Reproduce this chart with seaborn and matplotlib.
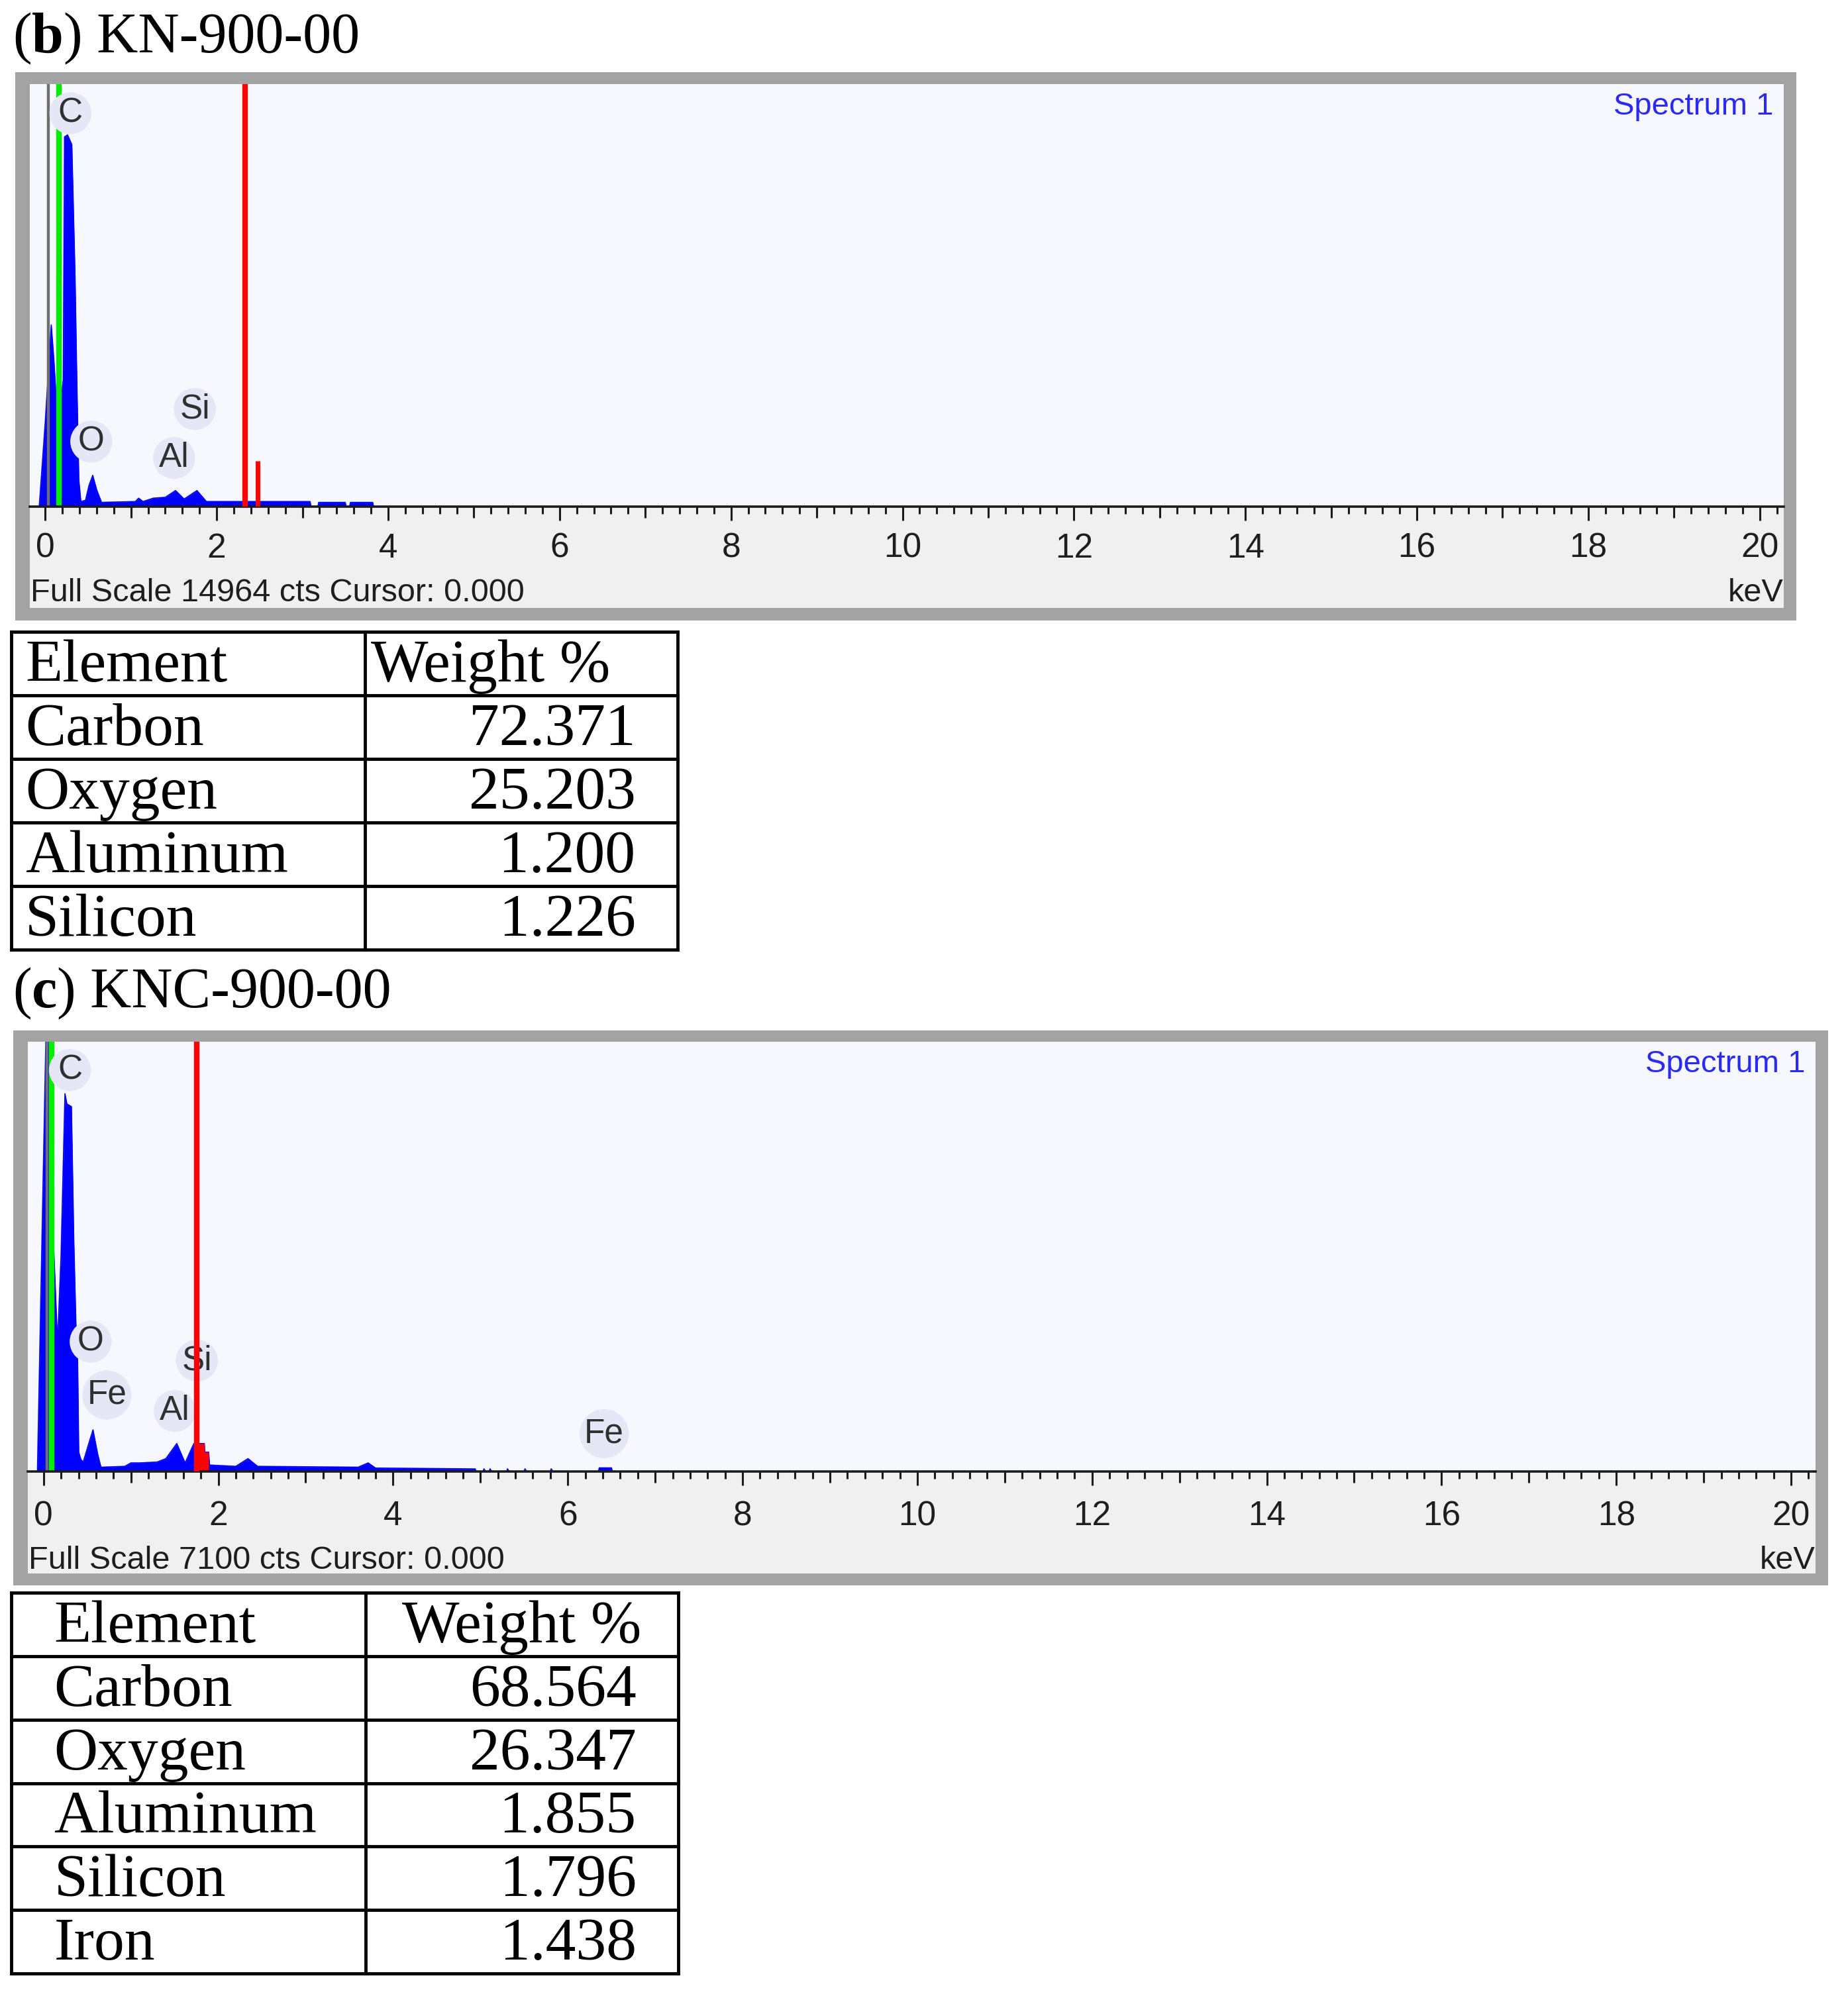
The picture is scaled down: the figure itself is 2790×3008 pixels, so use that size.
import numpy as np
import pandas as pd
import seaborn as sns
import matplotlib.pyplot as plt
from matplotlib.ticker import MultipleLocator

W, H = 2790, 3008

# (b) KN-900-00 spectrum, counts per keV
energy_b = [-0.07, 0.00, 0.07, 0.10, 0.13, 0.18, 0.21, 0.225, 0.26, 0.31, 0.347, 0.371,
            0.392, 0.416, 0.47, 0.51, 0.554, 0.60, 0.657, 1.05, 1.09, 1.14, 1.26, 1.40,
            1.52, 1.62, 1.77, 1.88, 3.09, 3.10, 3.18, 3.19, 3.50, 3.51, 3.55, 3.56, 3.82,
            3.83, 20.3]
counts_b = [0, 2993, 6435, 5237, 3741, 3741, 4489, 13094, 13168, 12824, 8275, 4085,
            943, 180, 224, 748, 1107, 599, 150, 180, 299, 180, 299, 329,
            569, 269, 569, 180, 180, 0, 0, 150, 150, 0, 0, 150, 150,
            0, 0]
full_scale_b = 14964
grey_b, green_b, red_b = 0.036, 0.157, 2.33
red_bar_b = (2.48, 1616)
peak_names_b = ["C", "O", "Al", "Si"]
peak_kev_b = [0.294, 0.537, 1.503, 1.745]
peak_cts_b = [13932, 2304, 1721, 3457]
elements_b = ["Carbon", "Oxygen", "Aluminum", "Silicon"]
weights_b = ["72.371", "25.203", "1.200", "1.226"]

# (c) KNC-900-00 spectrum
energy_c = [-0.07, 0.03, 0.05, 0.10, 0.16, 0.20, 0.245, 0.268, 0.319, 0.346, 0.37, 0.39,
            0.403, 0.427, 0.454, 0.51, 0.566, 0.62, 0.657, 0.93, 1.00, 1.10, 1.30, 1.40,
            1.525, 1.62, 1.72, 1.84, 1.845, 1.89, 1.90, 2.20, 2.34, 2.45, 3.60, 3.715,
            3.80, 4.94, 4.95, 5.03, 5.04, 5.06, 5.10, 5.11, 5.13, 5.30, 5.31, 5.33, 5.50,
            5.51, 5.53, 5.80, 5.81, 5.83, 6.35, 6.36, 6.50, 6.51, 20.3]
counts_c = [0, 7400, 7400, 4260, 2130, 3550, 6241, 6071, 6028, 3827, 2464, 1846,
            320, 199, 156, 426, 689, 284, 71, 85, 142, 142, 156, 213,
            462, 142, 462, 462, 320, 320, 107, 85, 213, 85, 71, 142,
            57, 43, 0, 0, 45, 0, 0, 45, 0, 0, 45, 0, 0,
            45, 0, 0, 45, 0, 0, 60, 60, 0, 0]
full_scale_c = 7100
grey_c, green_c, red_c = 0.043, 0.095, 1.755
red_fill_c = (1.72, 1.89)
peak_names_c = ["C", "O", "Fe", "Al", "Si", "Fe"]
peak_kev_c = [0.302, 0.539, 0.724, 1.502, 1.755, 6.416]
peak_cts_c = [6631, 2144, 1264, 1001, 1832, 625]
elements_c = ["Carbon", "Oxygen", "Aluminum", "Silicon", "Iron"]
weights_c = ["68.564", "26.347", "1.855", "1.796", "1.438"]

sns.set_theme(style="white")
plt.rcParams['font.family'] = ['Liberation Sans', 'DejaVu Sans']
SERIF = ['Liberation Serif', 'DejaVu Serif']

fig = plt.figure(figsize=(W / 100, H / 100), dpi=100)
fig.patch.set_facecolor('white')


def rect(x0, y0, x1, y1):
    return [x0 / W, 1 - y1 / H, (x1 - x0) / W, (y1 - y0) / H]


def blank(ax, color):
    ax.set_facecolor(color)
    ax.set_xticks([])
    ax.set_yticks([])
    for s in ax.spines.values():
        s.set_visible(False)


def title(x_px, y_px, parts):
    r = fig.canvas.get_renderer()
    x = x_px
    for s, w in parts:
        t = fig.text(x / W, 1 - y_px / H, s, fontweight=w, family=SERIF,
                     fontsize=62, va='center', ha='left', color='black')
        x += t.get_window_extent(r).width


def panel(frame, inner, axis_y, energy, counts, full_scale, grey, green, red,
          names, kev, cts, scale_text, lab_pad, text_off, red_bar=None, red_fill=None):
    fr = fig.add_axes(rect(*frame))
    blank(fr, '#a3a3a3')
    inn = fig.add_axes(rect(*inner))
    blank(inn, '#f0f0f0')
    ax = fig.add_axes(rect(inner[0], inner[1], inner[2], axis_y))
    ax.set_facecolor('#f7f8fe')
    for k in ['top', 'left', 'right']:
        ax.spines[k].set_visible(False)
    ax.spines['bottom'].set_color('#1c1c1c')
    ax.spines['bottom'].set_linewidth(2.6)

    ax.set_xlim(-0.18, 20.28)
    ax.set_ylim(0, full_scale)

    ax.fill_between(energy, counts, color='#0000ff', lw=0, zorder=2)
    sns.lineplot(x=energy, y=counts, ax=ax, color='#0000ff', lw=1.2,
                 estimator=None, sort=False, zorder=2)
    if red_fill is not None:
        e = np.array(energy)
        ax.fill_between(energy, counts, where=(e >= red_fill[0]) & (e <= red_fill[1]),
                        color='#ff0000', lw=0, zorder=2.2)
    ax.axvline(grey, color='#6e6e6e', lw=3.2, zorder=2.5)
    ax.axvline(green, color='#00ee00', lw=6, zorder=2.5)
    ax.axvline(red, color='#ff0000', lw=6, zorder=4)
    if red_bar is not None:
        ax.vlines(red_bar[0], 0, red_bar[1], color='#ff0000', lw=5, zorder=4)

    for n, x, y in zip(names, kev, cts):
        ax.text(x, y, n, ha='center', va='center', fontsize=37, color='#303030', zorder=3,
                bbox=dict(boxstyle='circle,pad=0.14', fc='#e5e7f7', ec='none'))

    ax.set_xlabel('')
    ax.set_ylabel('')
    ax.set_yticks([])
    ax.xaxis.set_major_locator(MultipleLocator(2))
    ax.xaxis.set_minor_locator(MultipleLocator(0.2))
    ax.tick_params(axis='x', which='major', bottom=True, direction='out', length=15,
                   width=2.2, color='#1c1c1c', labelsize=37, labelcolor='#1e1e1e', pad=lab_pad)
    ax.tick_params(axis='x', which='minor', bottom=True, direction='out', length=8,
                   width=2.2, color='#1c1c1c')
    ax.set_xticks(range(0, 21, 2))
    ax.set_xticklabels([str(v) for v in range(0, 21, 2)])
    sec = ax.secondary_xaxis('bottom')
    sec.set_xticks(range(1, 20, 2))
    sec.set_xticklabels([])
    sec.tick_params(length=12, width=2.2, color='#1c1c1c')
    sec.spines['bottom'].set_visible(False)

    ax.annotate(scale_text, xy=(0, 0), xycoords='axes fraction', xytext=(1.0, -text_off),
                textcoords='offset points', ha='left', va='center', fontsize=35,
                color='#1e1e1e')
    ax.annotate('keV', xy=(1, 0), xycoords='axes fraction', xytext=(0, -text_off),
                textcoords='offset points', ha='right', va='center', fontsize=35,
                color='#1e1e1e')
    ax.annotate('Spectrum 1', xy=(1, 1), xycoords='axes fraction', xytext=(-11.5, -24.5),
                textcoords='offset points', ha='right', va='center', fontsize=34,
                color='#2a2af2')
    return ax


def table(box, names, values, name_x, head_x, head_ha):
    ax = fig.add_axes(rect(*box))
    n = len(names) + 1
    ax.set_xlim(0, 1)
    ax.set_ylim(n, 0)
    ax.axis('off')
    split = 0.531
    for i in range(n + 1):
        ax.axhline(i, color='black', lw=3.5, clip_on=False, solid_capstyle='projecting')
    for x in (0, split, 1):
        ax.axvline(x, color='black', lw=3.5, clip_on=False, solid_capstyle='projecting')
    kw = dict(va='center', family=SERIF, fontsize=66, color='black')
    ax.text(name_x, 0.55, 'Element', ha='left', **kw)
    ax.text(head_x, 0.55, 'Weight %', ha=head_ha, **kw)
    for i, (nm, v) in enumerate(zip(names, values), start=1):
        ax.text(name_x, i + 0.55, nm, ha='left', **kw)
        ax.text(0.937, i + 0.55, v, ha='right', **kw)


title(19, 58, [('(', 'normal'), ('b', 'bold'), (') KN-900-00', 'normal')])
panel((23, 109, 2712, 937), (45, 127, 2693, 918), 765, energy_b, counts_b, full_scale_b,
      grey_b, green_b, red_b, peak_names_b, peak_kev_b, peak_cts_b,
      'Full Scale 14964 cts Cursor: 0.000', 13, 94, red_bar=red_bar_b)
table((17, 954, 1023, 1434), elements_b, weights_b, 0.021, 0.54, 'left')

title(19, 1500, [('(', 'normal'), ('c', 'bold'), (') KNC-900-00', 'normal')])
panel((20, 1556, 2760, 2394), (42, 1573, 2741, 2376), 2222, energy_c, counts_c, full_scale_c,
      grey_c, green_c, red_c, peak_names_c, peak_kev_c, peak_cts_c,
      'Full Scale 7100 cts Cursor: 0.000', 16, 96.5, red_fill=red_fill_c)
table((17, 2405, 1024, 2980), elements_c, weights_c, 0.064, 0.765, 'center')

fig.savefig('out.png', dpi=100, facecolor='white')
